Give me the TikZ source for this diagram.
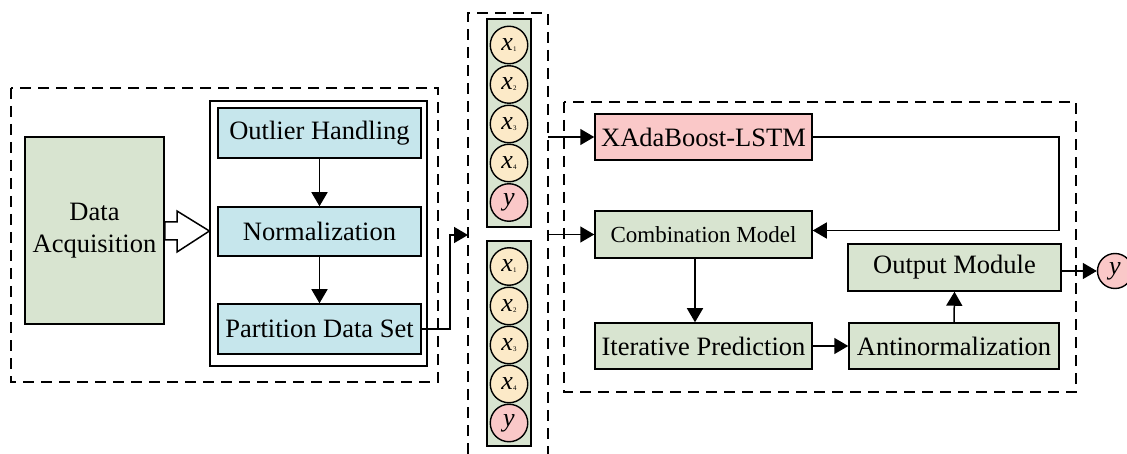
\documentclass[tikz,border=0pt]{standalone}
\usepackage{fontspec}
\setmainfont{Liberation Serif}
\usetikzlibrary{arrows.meta,calc}
\definecolor{boxgreen}{RGB}{216,228,208}
\definecolor{boxblue}{RGB}{198,230,236}
\definecolor{boxpink}{RGB}{250,200,200}
\definecolor{boxbeige}{RGB}{252,234,200}
\begin{document}
\begin{tikzpicture}[x=1pt,y=-1pt,
  box/.style={draw, line width=1.5pt, inner sep=0pt, align=center, font=\fontsize{26.5}{32}\selectfont},
  gbox/.style={box, fill=boxgreen},
  bbox/.style={box, fill=boxblue, minimum width=203pt, minimum height=50pt},
  dashbox/.style={draw, line width=1.4pt, dash pattern=on 11pt off 7pt},
  arr/.style={line width=1.5pt, -{Triangle[length=14pt,width=16pt]}},
  circ/.style={circle, draw, line width=1.4pt, minimum size=37.5pt, inner sep=0pt, fill=boxbeige},
  ycirc/.style={circ, fill=boxpink},
  col/.style={draw, line width=1.5pt, fill=boxgreen, minimum width=44pt, inner sep=0pt}
]
\newcommand{\xs}[1]{{\fontsize{26}{26}\selectfont\itshape x}\raisebox{-1pt}{\fontsize{7}{7}\selectfont #1}}
\newcommand{\yy}{{\fontsize{26}{26}\selectfont\itshape y}}
\useasboundingbox (0,0) rectangle (1127,454);

% left dashed region
\draw[dashbox] (11,88) rectangle (438,382);
\node[gbox, minimum width=139pt, minimum height=187pt] (da) at (94.5,230.5) {Data\\Acquisition};
\node[draw, line width=1.2pt, fill=white, minimum width=217pt, minimum height=265pt, inner sep=0pt] (inner) at (318.5,233.5) {};
\node[bbox] (outl) at (319.5,133) {Outlier Handling};
\node[bbox, minimum height=49pt] (norm) at (319.5,231.5) {Normalization};
\node[bbox] (part) at (319.5,329) {Partition Data Set};
\draw[arr] (outl) -- (norm);
\draw[arr] (norm) -- (part);
% hollow arrow
\draw[line width=1.5pt, fill=white] (da.east |- 0,222) -- (177,222) -- (177,211) -- (inner.west |- 0,231) -- (177,252) -- (177,240) -- (da.east |- 0,240) -- cycle;

% data column
\draw[dashbox] (468,454) -- (468,13) -- (548,13) -- (548,454);
\coordinate (cin) at (468,235);
\coordinate (cout1) at (548,137);
\coordinate (cout2) at (548,234.5);
\node[col, minimum height=208pt] (colA) at (509,123) {};
\node[col, minimum height=205pt] (colB) at (509,343.5) {};
\node[circ] (a1) at (509,45) {\xs{1}};
\node[circ] (a2) at (509,84.5) {\xs{2}};
\node[circ] (a3) at (509,124) {\xs{3}};
\node[circ] (a4) at (509,163) {\xs{4}};
\node[ycirc] (a5) at (509,202.5) {\yy};
\node[circ] (b1) at (509,266.5) {\xs{1}};
\node[circ] (b2) at (509,306) {\xs{2}};
\node[circ] (b3) at (509,345) {\xs{3}};
\node[circ] (b4) at (509,384) {\xs{4}};
\node[ycirc] (b5) at (509,423) {\yy};
\draw[arr] (part.east) -- (450,329) |- (cin);

% right dashed region
\draw[dashbox] (564,102) rectangle (1076,392);
\node[box, fill=boxpink, minimum width=217pt, minimum height=46pt] (xada) at (703.5,137) {XAdaBoost-LSTM};
\node[gbox, minimum width=217pt, minimum height=47pt, font=\fontsize{23}{28}\selectfont] (comb) at (703.5,234.5) {Combination Model};
\node[gbox, minimum width=217pt, minimum height=46pt] (iter) at (703.5,346) {Iterative Prediction};
\node[gbox, minimum width=210pt, minimum height=46pt] (anti) at (954,346) {Antinormalization};
\node[gbox, minimum width=213pt, minimum height=47pt] (outm) at (954.5,267.5) {Output Module};
\node[ycirc, minimum size=35pt] (yout) at (1115,271) {\yy};

\draw[arr] (cout1) -- (xada.west);
\draw[arr] (cout2) -- (comb.west);
\draw[arr] (xada.east) -- (1059,137) |- ([yshift=4pt]comb.east);
\draw[arr] (comb.south -| 695,0) -- (iter.north -| 695,0);
\draw[arr] (iter.east) -- (anti.west);
\draw[arr] (anti.north) -- (outm.south);
\draw[arr] (outm.east |- yout.west) -- (yout.west);
\end{tikzpicture}
\end{document}
